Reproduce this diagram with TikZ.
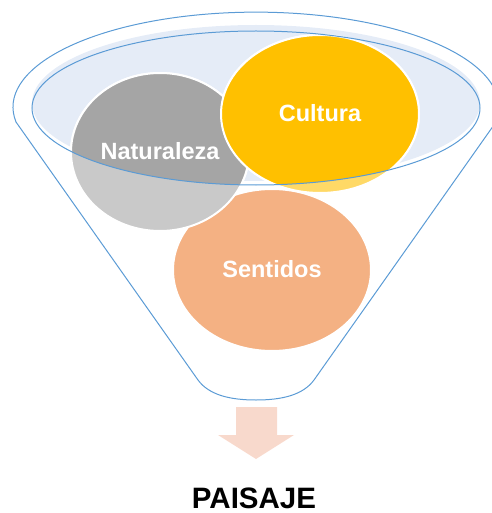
\documentclass[tikz,border=0pt]{standalone}
\usepackage{fontspec}
\setmainfont{Liberation Sans}
\definecolor{rimblue}{HTML}{5B9BD5}
\definecolor{rimfill}{HTML}{E5ECF7}
\definecolor{grayD}{HTML}{A5A5A5}
\definecolor{grayL}{HTML}{C9C9C9}
\definecolor{goldD}{HTML}{FFC000}
\definecolor{goldL}{HTML}{FFD966}
\definecolor{peach}{HTML}{F4B183}
\definecolor{arrowc}{HTML}{F8D9CC}
\tikzset{
  funnelline/.style={draw=rimblue, line width=1pt},
  bubble/.style={draw=white, line width=2pt},
  bubbletext/.style={text=white, font=\fontsize{23.5}{28}\selectfont\bfseries, inner sep=0pt, anchor=base},
}
\begin{document}
\begin{tikzpicture}[x=1pt,y=-1pt]
\useasboundingbox (0,0) rectangle (491,513);
% outer funnel
\draw[funnelline]
  (16,122) arc[start angle=189, end angle=-9, x radius=243pt, y radius=95pt]
  -- (314,380) .. controls (303,395) and (282,400) .. (256,400)
  .. controls (230,400) and (209,395) .. (198,380) -- cycle;
% rim fill
\fill[rimfill] (256,103) ellipse [x radius=224pt, y radius=78pt];
% bubbles, light (seen through funnel)
\path[bubble, fill=peach] (272,270) ellipse [x radius=99pt, y radius=81pt];
\path[bubble, fill=grayL] (160,152) ellipse [x radius=89pt, y radius=79pt];
\path[bubble, fill=goldL] (320,114) ellipse [x radius=99pt, y radius=79pt];
% bubbles, full colour inside rim
\begin{scope}
  \clip (256,108) ellipse [x radius=224pt, y radius=77pt];
  \path[bubble, fill=grayD] (160,152) ellipse [x radius=89pt, y radius=79pt];
  \path[bubble, fill=goldD] (320,114) ellipse [x radius=99pt, y radius=79pt];
\end{scope}
% rim stroke
\draw[funnelline] (256,108) ellipse [x radius=224pt, y radius=77pt];
% labels
\node[bubbletext] (nat) at (160,160) {Naturaleza};
\node[bubbletext] (cul) at (320,122) {Cultura};
\node[bubbletext] (sen) at (272,277) {Sentidos};
% arrow
\fill[arrowc] (236,407) -- (277,407) -- (277,435) -- (294,435) -- (256,459)
  -- (218,435) -- (236,435) -- cycle;
\node[font=\fontsize{29.5}{34}\selectfont\bfseries, inner sep=0pt, anchor=base] (pai) at (254,508) {PAISAJE};
\end{tikzpicture}
\end{document}
